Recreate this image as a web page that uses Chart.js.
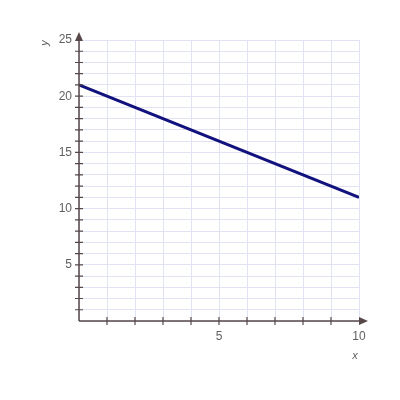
<!DOCTYPE html>
<html>
<head>
<meta charset="utf-8">
<script src="https://cdn.jsdelivr.net/npm/chart.js@4/dist/chart.umd.min.js"></script>
<style>
  html, body { margin: 0; padding: 0; background: #fff; }
  #wrap { width: 400px; height: 400px; }
</style>
</head>
<body>
<div id="wrap"><canvas id="chart" width="400" height="400"></canvas></div>
<script>
// line y = 21 - x, read at its two ends
const xValues = [0, 10];
const yValues = [21, 11];
const xLabels = [5, 10];
const yLabels = [5, 10, 15, 20, 25];

const axisColor = '#574848';
const labelColor = '#5f5f5f';

// axes, arrows, tick marks and axis titles drawn on top of the grid
const axesPlugin = {
    id: 'axes',
    afterDraw(chart) {
        const ctx = chart.ctx;
        const xs = chart.scales.x;
        const ys = chart.scales.y;
        const x0 = xs.getPixelForValue(0);
        const y0 = ys.getPixelForValue(0);
        const xEnd = xs.getPixelForValue(10);
        const yEnd = ys.getPixelForValue(25);

        ctx.save();
        ctx.strokeStyle = axisColor;
        ctx.fillStyle = axisColor;
        ctx.lineWidth = 1.5;

        ctx.beginPath();
        ctx.moveTo(x0, y0);
        ctx.lineTo(xEnd + 2, y0);
        ctx.moveTo(x0, y0);
        ctx.lineTo(x0, yEnd - 2);
        ctx.stroke();

        // tick marks every unit
        ctx.lineWidth = 1.2;
        ctx.beginPath();
        for (let v = 1; v < 25; v++) {
            const p = ys.getPixelForValue(v);
            ctx.moveTo(x0 - 4, p);
            ctx.lineTo(x0 + 4, p);
        }
        for (let v = 1; v < 10; v++) {
            const p = xs.getPixelForValue(v);
            ctx.moveTo(p, y0 - 4);
            ctx.lineTo(p, y0 + 4);
        }
        ctx.stroke();

        // arrows
        ctx.beginPath();
        ctx.moveTo(x0, yEnd - 8);
        ctx.lineTo(x0 - 4, yEnd + 1);
        ctx.lineTo(x0 + 4, yEnd + 1);
        ctx.closePath();
        ctx.fill();
        ctx.beginPath();
        ctx.moveTo(xEnd + 9, y0);
        ctx.lineTo(xEnd, y0 - 4);
        ctx.lineTo(xEnd, y0 + 4);
        ctx.closePath();
        ctx.fill();

        // axis titles
        ctx.fillStyle = labelColor;
        ctx.font = 'italic 11px "Liberation Sans", Arial, sans-serif';
        ctx.textAlign = 'center';
        ctx.textBaseline = 'middle';
        ctx.fillText('x', xEnd - 4, y0 + 35);
        ctx.translate(45, yEnd + 3);
        ctx.rotate(-Math.PI / 2);
        ctx.fillText('y', 0, 0);
        ctx.restore();
    }
};

new Chart(document.getElementById('chart'), {
    type: 'line',
    data: {
        datasets: [{
            data: xValues.map((x, i) => ({ x, y: yValues[i] })),
            borderColor: '#12127f',
            borderWidth: 3,
            pointRadius: 0,
            tension: 0,
        }],
    },
    options: {
        responsive: false,
        animation: false,
        layout: { padding: { top: 40, right: 41, bottom: 49, left: 0 } },
        plugins: {
            legend: { display: false },
            tooltip: { enabled: false },
        },
        scales: {
            x: {
                type: 'linear',
                min: 0,
                max: 10,
                afterFit(scale) { scale.height = 30; },
                border: { display: false },
                grid: { color: '#e2e2f5', lineWidth: 1, drawTicks: false },
                ticks: {
                    stepSize: 1,
                    padding: 8,
                    color: labelColor,
                    font: { size: 12, family: '"Liberation Sans", Arial, sans-serif' },
                    callback: v => (xLabels.includes(v) ? String(v) : ''),
                },
            },
            y: {
                min: 0,
                max: 25,
                afterFit(scale) { scale.width = 79; },
                border: { display: false },
                grid: { color: '#e2e2f5', lineWidth: 1, drawTicks: false },
                ticks: {
                    stepSize: 1,
                    padding: 7,
                    autoSkip: false,
                    color: labelColor,
                    font: { size: 12, family: '"Liberation Sans", Arial, sans-serif' },
                    callback: v => (yLabels.includes(v) ? String(v) : ''),
                },
            },
        },
    },
    plugins: [axesPlugin],
});
</script>
</body>
</html>
